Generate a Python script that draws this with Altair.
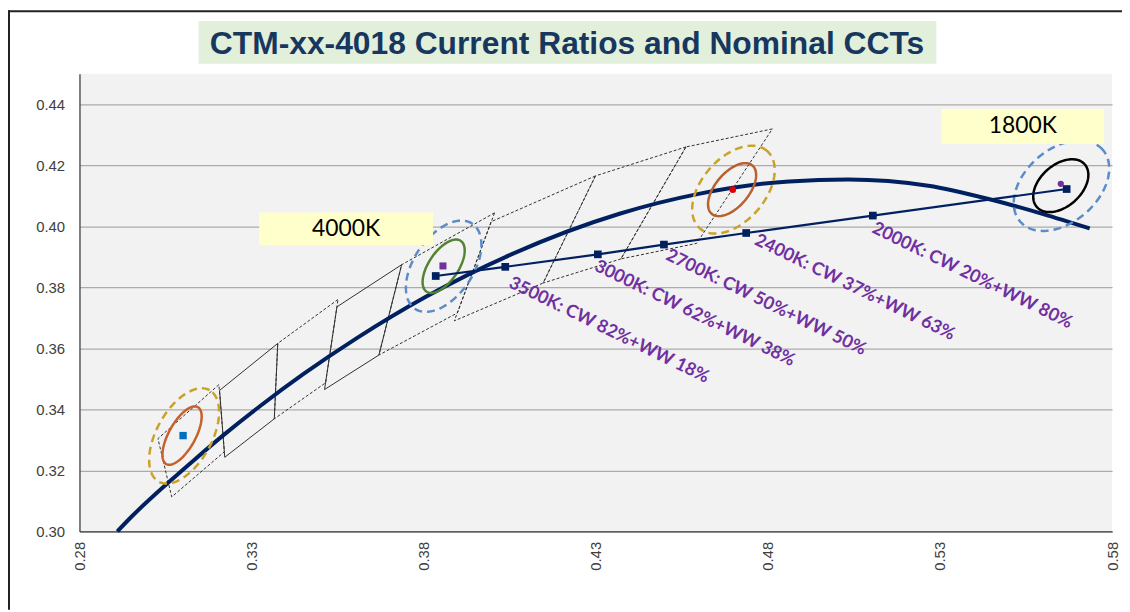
import altair as alt
import numpy as np
import pandas as pd

# ---------------- data ----------------
# Planckian locus (thick navy curve)
locus_x = [0.2910, 0.2951, 0.3064, 0.3135, 0.3221, 0.3325, 0.3451, 0.3608, 0.3805,
           0.4053, 0.4369, 0.4599, 0.4862, 0.5033, 0.5266, 0.5453, 0.5600, 0.5735]
locus_y = [0.3000, 0.3048, 0.3166, 0.3236, 0.3318, 0.3411, 0.3516, 0.3635, 0.3768,
           0.3907, 0.4041, 0.4106, 0.4147, 0.4153, 0.4133, 0.4086, 0.4040, 0.3993]

# CW/WW mixing line with square markers
mix_cct = ["4000K", "3500K", "3000K", "2700K", "2400K", "2000K", "1800K"]
mix_x = [0.3835, 0.4037, 0.4306, 0.4498, 0.4737, 0.5105, 0.5668]
mix_y = [0.3837, 0.3867, 0.3908, 0.3940, 0.3978, 0.4035, 0.4122]

# rotated purple labels (top-left anchor of each label)
lab_text = ["3500K: CW 82%+WW 18%", "3000K: CW 62%+WW 38%", "2700K: CW 50%+WW 50%",
            "2400K: CW 37%+WW 63%", "2000K: CW 20%+WW 80%"]
lab_x = [0.4062, 0.4311, 0.4518, 0.4776, 0.5117]
lab_y = [0.3843, 0.3898, 0.3934, 0.3983, 0.4022]

# ANSI quadrangles (corner chromaticities)
quad_name = ["6500K", "5700K", "5000K", "4500K", "4000K", "3500K", "3000K", "2700K"]
quad_x = [[0.3205, 0.3028, 0.3068, 0.3221],
          [0.3376, 0.3207, 0.3222, 0.3366],
          [0.3551, 0.3376, 0.3366, 0.3515],
          [0.3736, 0.3548, 0.3512, 0.3670],
          [0.4006, 0.3736, 0.3670, 0.3898],
          [0.4299, 0.3996, 0.3889, 0.4147],
          [0.4562, 0.4299, 0.4147, 0.4373],
          [0.4813, 0.4562, 0.4373, 0.4593]]
quad_y = [[0.3481, 0.3304, 0.3113, 0.3261],
          [0.3616, 0.3462, 0.3243, 0.3369],
          [0.3760, 0.3616, 0.3369, 0.3487],
          [0.3874, 0.3736, 0.3465, 0.3578],
          [0.4044, 0.3874, 0.3578, 0.3716],
          [0.4165, 0.4015, 0.3690, 0.3814],
          [0.4260, 0.4165, 0.3814, 0.3893],
          [0.4319, 0.4260, 0.3893, 0.3944]]
quad_solid = ["5700K", "4500K"]

# tolerance ellipses: centre x, centre y, semi-axes (x units), tilt (deg)
ell_name = ["e6500_in", "e6500_out", "e4000_in", "e4000_out",
            "e2400_in", "e2400_out", "e1800_in", "e1800_out"]
ell_cx = [0.3098, 0.3104, 0.3858, 0.3858, 0.4696, 0.4700, 0.5651, 0.5653]
ell_cy = [0.3314, 0.3313, 0.3869, 0.3869, 0.4120, 0.4120, 0.4133, 0.4133]
ell_a = [0.00946, 0.0152, 0.00889, 0.0149, 0.00918, 0.0149, 0.00932, 0.0159]
ell_b = [0.00387, 0.0080, 0.0043, 0.0086, 0.00488, 0.0092, 0.00602, 0.0106]
ell_ang = [61, 61, 56, 56, 50, 49, 42, 41]

# single target points
pt_key = ["blue_sq", "purple_sq", "red_dot", "purple_dot"]
pt_x = [0.3101, 0.3856, 0.4698, 0.5651]
pt_y = [0.3314, 0.3870, 0.4120, 0.4139]

# text boxes
box_text = ["4000K", "1800K"]
box_x1 = [0.3322, 0.5304]
box_x2 = [0.3827, 0.5777]
box_y1 = [0.4045, 0.4384]
box_y2 = [0.3938, 0.4270]

x_ticks = [0.28, 0.33, 0.38, 0.43, 0.48, 0.53, 0.58]
y_ticks = [0.30, 0.32, 0.34, 0.36, 0.38, 0.40, 0.42, 0.44]
TITLE = "CTM-xx-4018 Current Ratios and Nominal CCTs"

# ---------------- chart ----------------
W, H = 1040, 461
XD, YD = [0.28, 0.58], [0.30, 0.45]
ASPECT = (W / (XD[1] - XD[0])) / (H / (YD[1] - YD[0]))

NAVY = "#002060"
PURPLE = "#7030A0"

xs = alt.Scale(domain=XD, nice=False, zero=False)
ys = alt.Scale(domain=YD, nice=False, zero=False)
X = alt.X("x:Q", scale=xs, title=None,
          axis=alt.Axis(values=x_ticks, format=".2f", labelAngle=270, grid=False))
Y = alt.Y("y:Q", scale=ys, title=None,
          axis=alt.Axis(values=y_ticks, format=".2f", grid=True))

layers = []

# quadrangles
qrows = []
for n, qx, qy in zip(quad_name, quad_x, quad_y):
    for i, (a, b) in enumerate(zip(qx + qx[:1], qy + qy[:1])):
        qrows.append({"q": n, "x": a, "y": b, "i": i, "solid": n in quad_solid})
qdf = pd.DataFrame(qrows)
layers.append(alt.Chart(qdf[~qdf.solid]).mark_line(color="#303030", strokeWidth=1,
                                                   strokeDash=[3, 2]).encode(
    x=X, y=Y, detail="q:N", order="i:Q"))
layers.append(alt.Chart(qdf[qdf.solid]).mark_line(color="#303030", strokeWidth=1).encode(
    x=X, y=Y, detail="q:N", order="i:Q"))

# locus
ldf = pd.DataFrame({"x": locus_x, "y": locus_y, "i": range(len(locus_x))})
layers.append(alt.Chart(ldf).mark_line(color=NAVY, strokeWidth=4,
                                       interpolate="monotone").encode(
    x=X, y=Y, order="i:Q"))

# ellipses
ell_style = {
    "e6500_in": dict(color="#C8602A", strokeWidth=2.5),
    "e6500_out": dict(color="#C9A227", strokeWidth=2.5, strokeDash=[8, 5]),
    "e4000_in": dict(color="#548235", strokeWidth=2.5),
    "e4000_out": dict(color="#5B8CC6", strokeWidth=2.5, strokeDash=[8, 5]),
    "e2400_in": dict(color="#B8602E", strokeWidth=2.5),
    "e2400_out": dict(color="#C9A227", strokeWidth=2.5, strokeDash=[8, 5]),
    "e1800_in": dict(color="#000000", strokeWidth=2.5),
    "e1800_out": dict(color="#5B8CC6", strokeWidth=2.5, strokeDash=[8, 5]),
}
t = np.linspace(0, 2 * np.pi, 121)
for n, cx, cy, a, b, ang in zip(ell_name, ell_cx, ell_cy, ell_a, ell_b, ell_ang):
    th = np.radians(ang)
    dx = a * np.cos(t) * np.cos(th) - b * np.sin(t) * np.sin(th)
    dy = (a * np.cos(t) * np.sin(th) + b * np.sin(t) * np.cos(th)) * ASPECT
    edf = pd.DataFrame({"x": cx + dx, "y": cy + dy, "i": np.arange(len(t))})
    layers.append(alt.Chart(edf).mark_line(**ell_style[n]).encode(x=X, y=Y, order="i:Q"))

# mixing line + markers
mdf = pd.DataFrame({"x": mix_x, "y": mix_y, "cct": mix_cct, "i": range(len(mix_x))})
layers.append(alt.Chart(mdf).mark_line(color=NAVY, strokeWidth=2.2).encode(
    x=X, y=Y, order="i:Q"))
layers.append(alt.Chart(mdf).mark_point(shape="square", filled=True, color=NAVY,
                                        size=60, opacity=1).encode(x=X, y=Y))

# individual points
pdf = pd.DataFrame({"x": pt_x, "y": pt_y, "k": pt_key})
layers.append(alt.Chart(pdf).mark_point(filled=True, opacity=1).encode(
    x=X, y=Y,
    shape=alt.Shape("k:N", scale=alt.Scale(
        domain=pt_key, range=["square", "square", "circle", "circle"]), legend=None),
    color=alt.Color("k:N", scale=alt.Scale(
        domain=pt_key, range=["#0070C0", "#7030A0", "#E00000", "#7030A0"]), legend=None),
    size=alt.Size("k:N", scale=alt.Scale(
        domain=pt_key, range=[55, 40, 45, 50]), legend=None)))

# rotated labels
tdf = pd.DataFrame({"x": lab_x, "y": lab_y, "t": lab_text})
layers.append(alt.Chart(tdf).mark_text(angle=26, align="left", baseline="top",
                                       font="Lato", fontWeight="bold", fontSize=18,
                                       color=PURPLE).encode(x=X, y=Y, text="t:N"))

# yellow boxes
bdf = pd.DataFrame({"x": box_x1, "x2": box_x2, "y": box_y1, "y2": box_y2, "t": box_text})
layers.append(alt.Chart(bdf).mark_rect(color="#FFFFCC").encode(
    x=X, x2="x2:Q", y=Y, y2="y2:Q"))
btxt = pd.DataFrame({"x": [(a + b) / 2 for a, b in zip(box_x1, box_x2)],
                     "y": [(a + b) / 2 for a, b in zip(box_y1, box_y2)],
                     "t": box_text})
layers.append(alt.Chart(btxt).mark_text(font="Lato", fontSize=23, color="#000000",
                                        align="center", baseline="middle").encode(
    x=X, y=Y, text="t:N"))

# title with its pale green band, and the outer frame
deco = pd.DataFrame({"t": [TITLE]})
layers.append(alt.Chart(deco).mark_rect(color="#E2EFDA").encode(
    x=alt.value(120), x2=alt.value(863), y=alt.value(-53), y2=alt.value(-10)))
layers.append(alt.Chart(deco).mark_text(
    font="Liberation Sans", fontWeight="bold", fontSize=32, color="#17375E",
    align="center", baseline="middle").encode(x=alt.value(491), y=alt.value(-30),
                                              text="t:N"))
layers.append(alt.Chart(deco).mark_rule(color="#222222", strokeWidth=2).encode(
    x=alt.value(-72), x2=alt.value(W + 10), y=alt.value(-63)))
layers.append(alt.Chart(deco).mark_rule(color="#222222", strokeWidth=2).encode(
    x=alt.value(-71), y=alt.value(-64), y2=alt.value(H + 79)))

chart = alt.layer(*layers).properties(
    width=W, height=H,
    autosize=alt.AutoSizeParams(type="none"),
    padding={"left": 72, "top": 64, "right": 10, "bottom": 79},
    background="white",
).configure_view(fill="#F2F2F2", stroke=None).configure_axis(
    ticks=False, labelFontSize=15, labelFont="Liberation Sans", labelColor="#404040",
    domainColor="#404040", domainWidth=1.3, gridColor="#ABABAB", gridWidth=1.3,
).configure_axisX(labelPadding=10).configure_axisY(labelPadding=15)

chart.save("out.html", embed_options={"renderer": "svg", "actions": False})
